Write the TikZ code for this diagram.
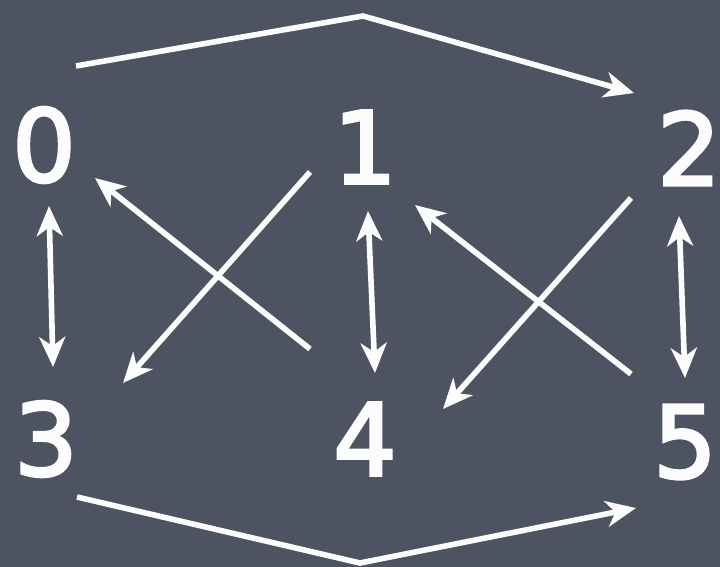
\documentclass[tikz,border=0pt]{standalone}
\usepackage{fontspec}
\setmainfont{DejaVu Sans}
\newfontfamily\chalkfont[FakeBold=3]{DejaVu Sans}
\usepackage{tikz}
\usepackage{xcolor}
\usetikzlibrary{arrows.meta,calc}
\definecolor{cBoard}{HTML}{4D5361}
\definecolor{cChalk}{HTML}{FCFCFC}

\begin{document}
\begin{tikzpicture}[
  x=0.5pt, y=-0.5pt,
  >={Stealth[length=15pt, width=13pt, inset=4.5pt]},
  num/.style={text=cChalk, inner sep=0pt,
              font=\chalkfont\fontsize{50}{60}\selectfont},
  ch/.style={draw=cChalk, line width=2.8pt},
  chr/.style={ch, ->},
  chb/.style={ch, <->}]

% ---- board ----
\fill[cBoard] (0,0) rectangle (720,567);
\useasboundingbox (0,0) rectangle (720,567);

% ================= vertices =================
\node[num] (n0) at (44,145) {0};
\node[num] (n1) at (365,147) {1};
\node[num] (n2) at (689,148) {2};
\node[num] (n3) at (46,439) {3};
\node[num] (n4) at (365,439) {4};
\node[num] (n5) at (685,442) {5};
\coordinate (top) at (363,16);
\coordinate (bot) at (360,563);

% ================= long arcs =================
\draw[chr] ($(n0)+(32,-79)$) -- (top) -- ($(n2)+(-55,-55)$);
\draw[chr] ($(n3)+(31,58)$) -- (bot) -- ($(n5)+(-49,66)$);

% ---- columns ----
\draw[chb] ($(n0)+(5,61)$) -- ($(n3)+(7,-72)$);
\draw[chb] ($(n1)+(3,64)$) -- ($(n4)+(10,-66)$);
\draw[chb] ($(n2)+(-10,68)$) -- ($(n5)+(0,-64)$);

% ---- crossings ----
\draw[chr] ($(n1)+(-55,25)$) -- ($(n3)+(77,-56)$);
\draw[chr] ($(n4)+(-55,-90)$) -- ($(n0)+(51,33)$);
\draw[chr] ($(n2)+(-58,50)$) -- ($(n4)+(78,-30)$);
\draw[chr] ($(n5)+(-54,-68)$) -- ($(n1)+(50,58)$);
\end{tikzpicture}
\end{document}
